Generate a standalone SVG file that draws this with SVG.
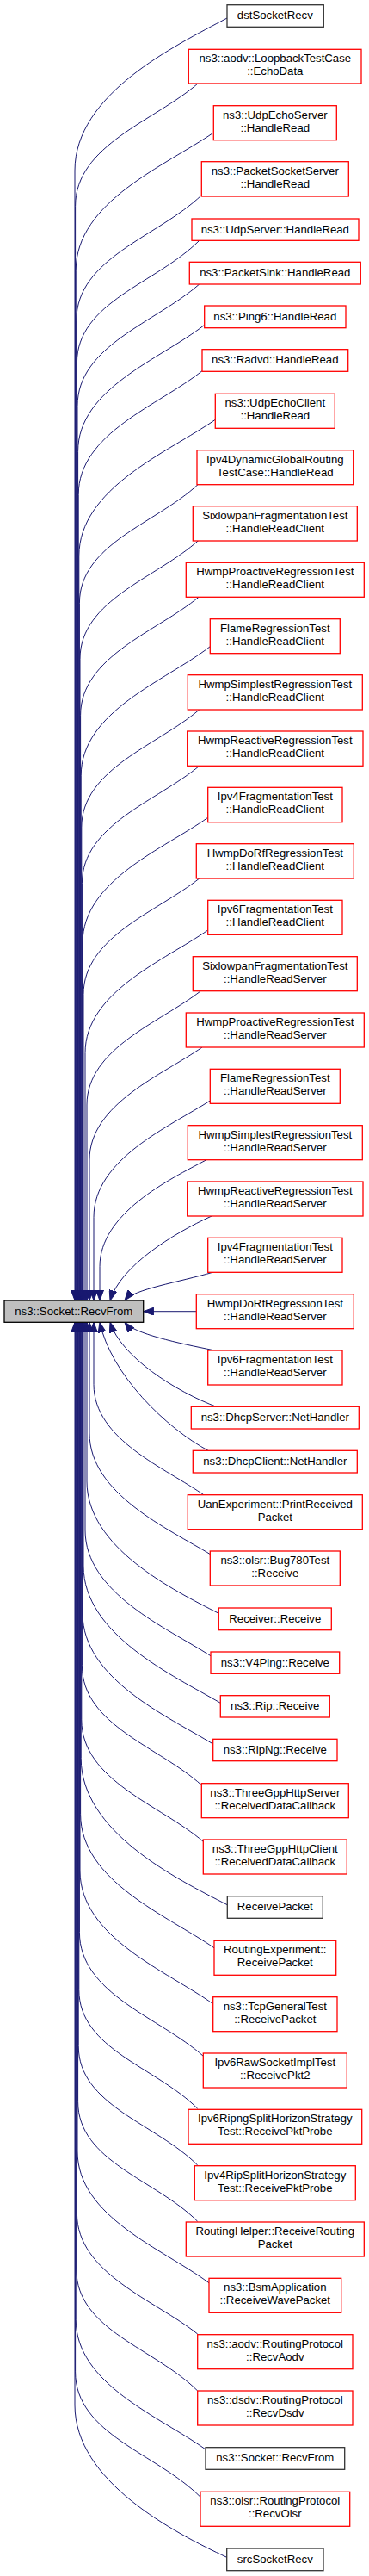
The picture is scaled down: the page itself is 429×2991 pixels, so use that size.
<svg xmlns="http://www.w3.org/2000/svg" width="429" height="2991" viewBox="0 0 429 2991">
<style>
rect{fill:#fff;stroke-width:1.3}
.r{stroke:#ff0000}
.b{stroke:#333}
.root{fill:#bfbfbf;stroke:#000}
text{font-family:"Liberation Sans",Arial,Helvetica,sans-serif;font-size:13.2px;text-anchor:middle;fill:#000}
#edges path{fill:none;stroke:#191970;stroke-width:1;marker-end:url(#ah)}
</style>
<defs>
<marker id="ah" markerUnits="userSpaceOnUse" markerWidth="12" markerHeight="9" viewBox="0 0 12 9" refX="12" refY="4.5" orient="auto"><path d="M0,0 L12,4.5 L0,9 z" fill="#191970" stroke="#191970" stroke-width="1"/></marker>
</defs>
<rect width="429" height="2991" style="fill:#fff;stroke:none"/>
<g id="edges">
<path d="M264,21 C202.1,53.9 87,109.5 87,198 L87,1510"/>
<path d="M230,97 C180.2,140.3 87.6,168.2 87.6,239.4 L87.6,1510"/>
<path d="M248.3,154 C192.3,192.6 88.2,234.1 88.2,314.1 L88.2,1510"/>
<path d="M234.3,226.7 C183.4,275.1 88.8,299.5 88.8,372.2 L88.8,1510"/>
<path d="M231.7,279.3 C181.9,329.1 89.4,350.5 89.4,421.6 L89.4,1510"/>
<path d="M231.7,330 C181.1,374.6 90,400.9 90,471.7 L90,1510"/>
<path d="M237.7,377.3 C186.2,417.5 90.6,450.9 90.6,524.4 L90.6,1510"/>
<path d="M235,430.7 C184.7,470.9 91.2,502.6 91.2,574.5 L91.2,1510"/>
<path d="M250.3,487.3 C194.8,525.6 91.8,566.6 91.8,645.8 L91.8,1510"/>
<path d="M230,562.7 C181.8,607.5 92.4,631.5 92.4,700.3 L92.4,1510"/>
<path d="M231,627.3 C182.7,670.8 93,696.3 93,765.3 L93,1510"/>
<path d="M231,693.3 C182.9,733.2 93.6,762 93.6,830.7 L93.6,1510"/>
<path d="M244.3,750.7 C191.8,791.1 94.2,825.8 94.2,900.8 L94.2,1510"/>
<path d="M231.7,824 C183.8,865.2 94.8,892.5 94.8,960.9 L94.8,1510"/>
<path d="M231.7,889.3 C184,929.4 95.4,957.5 95.4,1025.6 L95.4,1510"/>
<path d="M241.7,949.3 C190.7,985.5 96,1022.2 96,1095 L96,1510"/>
<path d="M231.7,1020 C184.6,1057.7 97,1087.4 97,1154.7 L97,1510"/>
<path d="M241.7,1080 C191.8,1114.9 99,1151.4 99,1222.7 L99,1510"/>
<path d="M233.3,1150.7 C187,1186.8 101,1216.9 101,1283 L101,1510"/>
<path d="M235,1216 C189.1,1248.1 104,1281.5 104,1347 L104,1510"/>
<path d="M244.3,1278 C196.9,1308.3 109,1345.7 109,1413.3 L109,1510"/>
<path d="M240,1346.7 C196.6,1369.7 116,1408.7 116,1470.7 L116,1510"/>
<path d="M246.7,1411.7 C199.2,1433.1 139.9,1470.7 128,1510"/>
<path d="M248.3,1477 C207,1489 155.3,1496.8 145,1510"/>
<path d="M228.3,1522.7 L166.7,1522.7"/>
<path d="M248.3,1567.7 C207,1559.6 155.3,1548.3 145,1535.3"/>
<path d="M253.3,1634 C203.2,1615.5 140.5,1574.8 128,1535.3"/>
<path d="M243.3,1685 C192.4,1658 128.7,1595.2 116,1535.3"/>
<path d="M238.3,1736.7 C193,1704.6 109,1672 109,1607.4 L109,1535.3"/>
<path d="M245,1805 C195.6,1774.9 104,1734.5 104,1664 L104,1535.3"/>
<path d="M254.3,1873.3 C200.6,1845.9 101,1796.7 101,1720 L101,1535.3"/>
<path d="M245,1922.7 C193.9,1890 99,1849.7 99,1776.7 L99,1535.3"/>
<path d="M256.3,1977.3 C200.5,1944.9 97,1897.7 97,1818 L97,1535.3"/>
<path d="M247.7,2025 C194.6,1992.6 96,1949.2 96,1873.3 L96,1535.3"/>
<path d="M234.3,2072.7 C185.7,2028.5 95.4,2003.3 95.4,1933.8 L95.4,1535.3"/>
<path d="M236.3,2138.3 C186.8,2095.7 94.8,2067.6 94.8,1996.8 L94.8,1535.3"/>
<path d="M264.3,2211.7 C204.8,2181.3 94.2,2126.7 94.2,2041.6 L94.2,1535.3"/>
<path d="M249,2261.7 C194.6,2224.2 93.6,2184 93.6,2106.3 L93.6,1535.3"/>
<path d="M247.7,2326.7 C193.6,2288.3 93,2249.4 93,2172 L93,1535.3"/>
<path d="M236.3,2387.3 C185.9,2342.4 92.4,2315.4 92.4,2243.4 L92.4,1535.3"/>
<path d="M229.7,2448.3 C181.4,2400 91.8,2379.4 91.8,2310.4 L91.8,1535.3"/>
<path d="M229.7,2514 C181.2,2465.5 91.2,2444.8 91.2,2375.5 L91.2,1535.3"/>
<path d="M229.7,2579.3 C181,2530.6 90.6,2509.8 90.6,2440.2 L90.6,1535.3"/>
<path d="M243,2650.7 C189.4,2611 90,2574.2 90,2497.7 L90,1535.3"/>
<path d="M229.7,2710 C180.6,2670.7 89.4,2639.9 89.4,2569.7 L89.4,1535.3"/>
<path d="M229.7,2776 C180.4,2726.7 88.8,2705.6 88.8,2635.1 L88.8,1535.3"/>
<path d="M239,2844 C186.2,2806 88.2,2768.6 88.2,2693.2 L88.2,1535.3"/>
<path d="M233,2899.3 C182.1,2848.4 87.6,2826.6 87.6,2753.9 L87.6,1535.3"/>
<path d="M263.7,2969.3 C201.9,2940.3 87,2881 87,2792.6 L87,1535.3"/>
</g>
<g id="root"><rect class="root" x="5" y="1510" width="161.7" height="25.3"/><text x="85.8" y="1526.8">ns3::Socket::RecvFrom</text></g>
<g id="n1"><rect class="b" x="264" y="5.7" width="112.3" height="25.6"/><text x="319.8" y="22.2">dstSocketRecv</text></g>
<g id="n2"><rect class="r" x="219.3" y="57.3" width="200.7" height="39.7"/><text x="319.8" y="72.3">ns3::aodv::LoopbackTestCase</text><text x="319.8" y="87.3">::EchoData</text></g>
<g id="n3"><rect class="r" x="248.3" y="122.7" width="143" height="40"/><text x="319.8" y="137.7">ns3::UdpEchoServer</text><text x="319.8" y="152.7">::HandleRead</text></g>
<g id="n4"><rect class="r" x="234.3" y="187.7" width="171" height="40.3"/><text x="319.8" y="202.7">ns3::PacketSocketServer</text><text x="319.8" y="217.7">::HandleRead</text></g>
<g id="n5"><rect class="r" x="223" y="254" width="194" height="25.3"/><text x="319.8" y="270.5">ns3::UdpServer::HandleRead</text></g>
<g id="n6"><rect class="r" x="220.3" y="304.3" width="199" height="25.7"/><text x="319.8" y="320.8">ns3::PacketSink::HandleRead</text></g>
<g id="n7"><rect class="r" x="237.7" y="355" width="164.3" height="25.7"/><text x="319.8" y="371.5">ns3::Ping6::HandleRead</text></g>
<g id="n8"><rect class="r" x="235" y="405.7" width="169.7" height="25.6"/><text x="319.8" y="422.2">ns3::Radvd::HandleRead</text></g>
<g id="n9"><rect class="r" x="250.3" y="457.3" width="139" height="40"/><text x="319.8" y="472.3">ns3::UdpEchoClient</text><text x="319.8" y="487.3">::HandleRead</text></g>
<g id="n10"><rect class="r" x="229" y="522.7" width="181.7" height="40"/><text x="319.8" y="537.7">Ipv4DynamicGlobalRouting</text><text x="319.8" y="552.7">TestCase::HandleRead</text></g>
<g id="n11"><rect class="r" x="224.3" y="587.7" width="191" height="40.3"/><text x="319.8" y="602.7">SixlowpanFragmentationTest</text><text x="319.8" y="617.7">::HandleReadClient</text></g>
<g id="n12"><rect class="r" x="216.3" y="653.3" width="207" height="40"/><text x="319.8" y="668.3">HwmpProactiveRegressionTest</text><text x="319.8" y="683.3">::HandleReadClient</text></g>
<g id="n13"><rect class="r" x="244.3" y="718.7" width="151" height="40"/><text x="319.8" y="733.7">FlameRegressionTest</text><text x="319.8" y="748.7">::HandleReadClient</text></g>
<g id="n14"><rect class="r" x="218.3" y="783.7" width="203" height="40.3"/><text x="319.8" y="798.7">HwmpSimplestRegressionTest</text><text x="319.8" y="813.7">::HandleReadClient</text></g>
<g id="n15"><rect class="r" x="217.7" y="849" width="204.3" height="40.3"/><text x="319.8" y="864">HwmpReactiveRegressionTest</text><text x="319.8" y="879">::HandleReadClient</text></g>
<g id="n16"><rect class="r" x="241.7" y="914.3" width="156.3" height="40.4"/><text x="319.8" y="929.3">Ipv4FragmentationTest</text><text x="319.8" y="944.3">::HandleReadClient</text></g>
<g id="n17"><rect class="r" x="228.3" y="979.7" width="183" height="40.3"/><text x="319.8" y="994.7">HwmpDoRfRegressionTest</text><text x="319.8" y="1009.7">::HandleReadClient</text></g>
<g id="n18"><rect class="r" x="241.7" y="1045.3" width="156.3" height="40"/><text x="319.8" y="1060.3">Ipv6FragmentationTest</text><text x="319.8" y="1075.3">::HandleReadClient</text></g>
<g id="n19"><rect class="r" x="224.3" y="1110.7" width="191" height="40"/><text x="319.8" y="1125.7">SixlowpanFragmentationTest</text><text x="319.8" y="1140.7">::HandleReadServer</text></g>
<g id="n20"><rect class="r" x="216.3" y="1176" width="207" height="40"/><text x="319.8" y="1191">HwmpProactiveRegressionTest</text><text x="319.8" y="1206">::HandleReadServer</text></g>
<g id="n21"><rect class="r" x="244.3" y="1241.3" width="151" height="40"/><text x="319.8" y="1256.3">FlameRegressionTest</text><text x="319.8" y="1271.3">::HandleReadServer</text></g>
<g id="n22"><rect class="r" x="218.3" y="1306.7" width="203" height="40"/><text x="319.8" y="1321.7">HwmpSimplestRegressionTest</text><text x="319.8" y="1336.7">::HandleReadServer</text></g>
<g id="n23"><rect class="r" x="217.7" y="1372" width="204.3" height="40"/><text x="319.8" y="1387">HwmpReactiveRegressionTest</text><text x="319.8" y="1402">::HandleReadServer</text></g>
<g id="n24"><rect class="r" x="241.7" y="1437.3" width="156.3" height="40"/><text x="319.8" y="1452.3">Ipv4FragmentationTest</text><text x="319.8" y="1467.3">::HandleReadServer</text></g>
<g id="n25"><rect class="r" x="228.3" y="1502.7" width="183" height="40"/><text x="319.8" y="1517.7">HwmpDoRfRegressionTest</text><text x="319.8" y="1532.7">::HandleReadServer</text></g>
<g id="n26"><rect class="r" x="241.7" y="1568" width="156.3" height="40"/><text x="319.8" y="1583">Ipv6FragmentationTest</text><text x="319.8" y="1598">::HandleReadServer</text></g>
<g id="n27"><rect class="r" x="222.3" y="1633.3" width="195" height="25.7"/><text x="319.8" y="1649.8">ns3::DhcpServer::NetHandler</text></g>
<g id="n28"><rect class="r" x="224.3" y="1684.3" width="191" height="25.7"/><text x="319.8" y="1700.8">ns3::DhcpClient::NetHandler</text></g>
<g id="n29"><rect class="r" x="218.3" y="1735.7" width="203" height="40"/><text x="319.8" y="1750.7">UanExperiment::PrintReceived</text><text x="319.8" y="1765.7">Packet</text></g>
<g id="n30"><rect class="r" x="244.3" y="1801" width="151" height="40"/><text x="319.8" y="1816">ns3::olsr::Bug780Test</text><text x="319.8" y="1831">::Receive</text></g>
<g id="n31"><rect class="r" x="254.3" y="1867" width="131" height="25.7"/><text x="319.8" y="1883.5">Receiver::Receive</text></g>
<g id="n32"><rect class="r" x="245" y="1918" width="149.7" height="25.3"/><text x="319.8" y="1934.5">ns3::V4Ping::Receive</text></g>
<g id="n33"><rect class="r" x="256.3" y="1968.7" width="127" height="25.3"/><text x="319.8" y="1985.2">ns3::Rip::Receive</text></g>
<g id="n34"><rect class="r" x="247.7" y="2019.3" width="144.3" height="25.4"/><text x="319.8" y="2035.8">ns3::RipNg::Receive</text></g>
<g id="n35"><rect class="r" x="234.3" y="2070.7" width="171" height="40"/><text x="319.8" y="2085.7">ns3::ThreeGppHttpServer</text><text x="319.8" y="2100.7">::ReceivedDataCallback</text></g>
<g id="n36"><rect class="r" x="236.3" y="2136" width="167" height="40"/><text x="319.8" y="2151">ns3::ThreeGppHttpClient</text><text x="319.8" y="2166">::ReceivedDataCallback</text></g>
<g id="n37"><rect class="b" x="264.3" y="2201.7" width="111" height="25.6"/><text x="319.8" y="2218.2">ReceivePacket</text></g>
<g id="n38"><rect class="r" x="249" y="2253.3" width="141.7" height="40"/><text x="319.8" y="2268.3">RoutingExperiment::</text><text x="319.8" y="2283.3">ReceivePacket</text></g>
<g id="n39"><rect class="r" x="247.7" y="2318.7" width="144.3" height="40"/><text x="319.8" y="2333.7">ns3::TcpGeneralTest</text><text x="319.8" y="2348.7">::ReceivePacket</text></g>
<g id="n40"><rect class="r" x="236.3" y="2384" width="167" height="40"/><text x="319.8" y="2399">Ipv6RawSocketImplTest</text><text x="319.8" y="2414">::ReceivePkt2</text></g>
<g id="n41"><rect class="r" x="219" y="2449.3" width="201.7" height="40"/><text x="319.8" y="2464.3">Ipv6RipngSplitHorizonStrategy</text><text x="319.8" y="2479.3">Test::ReceivePktProbe</text></g>
<g id="n42"><rect class="r" x="226.3" y="2514.7" width="187" height="40"/><text x="319.8" y="2529.7">Ipv4RipSplitHorizonStrategy</text><text x="319.8" y="2544.7">Test::ReceivePktProbe</text></g>
<g id="n43"><rect class="r" x="216.3" y="2580" width="207" height="40"/><text x="319.8" y="2595">RoutingHelper::ReceiveRouting</text><text x="319.8" y="2610">Packet</text></g>
<g id="n44"><rect class="r" x="243" y="2645.3" width="153.7" height="40"/><text x="319.8" y="2660.3">ns3::BsmApplication</text><text x="319.8" y="2675.3">::ReceiveWavePacket</text></g>
<g id="n45"><rect class="r" x="229.7" y="2710.7" width="180.3" height="40"/><text x="319.8" y="2725.7">ns3::aodv::RoutingProtocol</text><text x="319.8" y="2740.7">::RecvAodv</text></g>
<g id="n46"><rect class="r" x="229.7" y="2776" width="180.3" height="40"/><text x="319.8" y="2791">ns3::dsdv::RoutingProtocol</text><text x="319.8" y="2806">::RecvDsdv</text></g>
<g id="n47"><rect class="b" x="239" y="2841.7" width="161.7" height="25.6"/><text x="319.8" y="2858.2">ns3::Socket::RecvFrom</text></g>
<g id="n48"><rect class="r" x="233" y="2893.3" width="173.7" height="40"/><text x="319.8" y="2908.3">ns3::olsr::RoutingProtocol</text><text x="319.8" y="2923.3">::RecvOlsr</text></g>
<g id="n49"><rect class="b" x="263.7" y="2959" width="112.3" height="25.7"/><text x="319.8" y="2975.5">srcSocketRecv</text></g>
</svg>
